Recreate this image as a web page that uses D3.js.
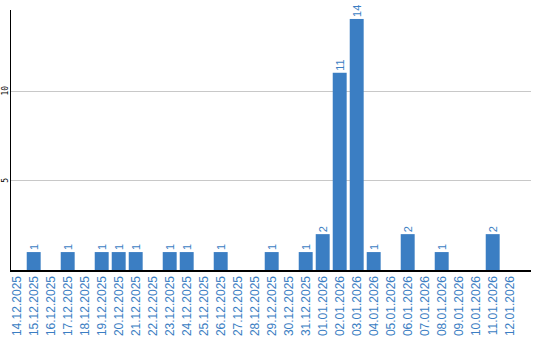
<!DOCTYPE html>
<html>
<head>
<meta charset="utf-8">
<script src="https://cdn.jsdelivr.net/npm/d3@7"></script>
<style>
  body { margin: 0; background: #fff; }
  svg { display: block; }
</style>
</head>
<body>
<div id="chart"></div>
<script>
// daily counts, 14.12.2025 - 12.01.2026
const dates = [
  "14.12.2025", "15.12.2025", "16.12.2025", "17.12.2025", "18.12.2025",
  "19.12.2025", "20.12.2025", "21.12.2025", "22.12.2025", "23.12.2025",
  "24.12.2025", "25.12.2025", "26.12.2025", "27.12.2025", "28.12.2025",
  "29.12.2025", "30.12.2025", "31.12.2025", "01.01.2026", "02.01.2026",
  "03.01.2026", "04.01.2026", "05.01.2026", "06.01.2026", "07.01.2026",
  "08.01.2026", "09.01.2026", "10.01.2026", "11.01.2026", "12.01.2026"
];
const counts = [0, 1, 0, 1, 0, 1, 1, 1, 0, 1, 1, 0, 1, 0, 0, 1, 0, 1, 2, 11, 14, 1, 0, 2, 0, 1, 0, 0, 2, 0];
const yTicks = [5, 10];

const width = 540;
const height = 340;
const blue = "#3b7ec3";

const data = dates.map((d, i) => ({ date: d, value: counts[i] }));

const svg = d3.select("#chart")
  .append("svg")
  .attr("width", width)
  .attr("height", height);

const x = d3.scaleBand()
  .domain(dates)
  .range([8.2, 518.2])
  .paddingInner(0.18)
  .paddingOuter(0.09);

const y = d3.scaleLinear()
  .domain([0, 14.5])
  .range([270, 10]);

// gridlines
svg.append("g")
  .selectAll("line")
  .data(yTicks)
  .enter()
  .append("line")
  .attr("x1", 11)
  .attr("x2", 531)
  .attr("y1", d => Math.round(y(d)) + 0.5)
  .attr("y2", d => Math.round(y(d)) + 0.5)
  .attr("stroke", "#c8c8c8")
  .attr("stroke-width", 1);

// y tick labels, rotated
svg.append("g")
  .selectAll("text")
  .data(yTicks)
  .enter()
  .append("text")
  .attr("transform", d => `translate(8,${y(d)}) rotate(-90)`)
  .attr("text-anchor", "middle")
  .style("font-family", "'DejaVu Sans Mono', monospace")
  .style("font-size", "8px")
  .style("fill", "#000")
  .text(d => d);

// bars
const bars = svg.append("g")
  .selectAll("g")
  .data(data.filter(d => d.value > 0))
  .enter()
  .append("g");

bars.append("rect")
  .attr("x", d => x(d.date))
  .attr("y", d => y(d.value))
  .attr("width", x.bandwidth())
  .attr("height", d => y(0) - y(d.value))
  .attr("fill", blue);

bars.append("text")
  .attr("transform", d => `translate(${x(d.date) + x.bandwidth() / 2 + 4},${y(d.value) - 2}) rotate(-90)`)
  .attr("text-anchor", "start")
  .style("font-family", "'Liberation Sans', Arial, sans-serif")
  .style("font-size", "11px")
  .style("fill", blue)
  .text(d => d.value);

// axes lines
svg.append("line")
  .attr("x1", 10.5).attr("x2", 10.5)
  .attr("y1", 10).attr("y2", 271)
  .attr("stroke", "#000");

svg.append("line")
  .attr("x1", 10).attr("x2", 531)
  .attr("y1", 271).attr("y2", 271)
  .attr("stroke", "#000")
  .attr("stroke-width", 2);

// x labels
svg.append("g")
  .selectAll("text")
  .data(dates)
  .enter()
  .append("text")
  .attr("transform", d => `translate(${x(d) + x.bandwidth() / 2 + 4},276) rotate(-90)`)
  .attr("text-anchor", "end")
  .style("font-family", "'Liberation Sans', Arial, sans-serif")
  .style("font-size", "12px")
  .style("fill", blue)
  .text(d => d);
</script>
</body>
</html>
